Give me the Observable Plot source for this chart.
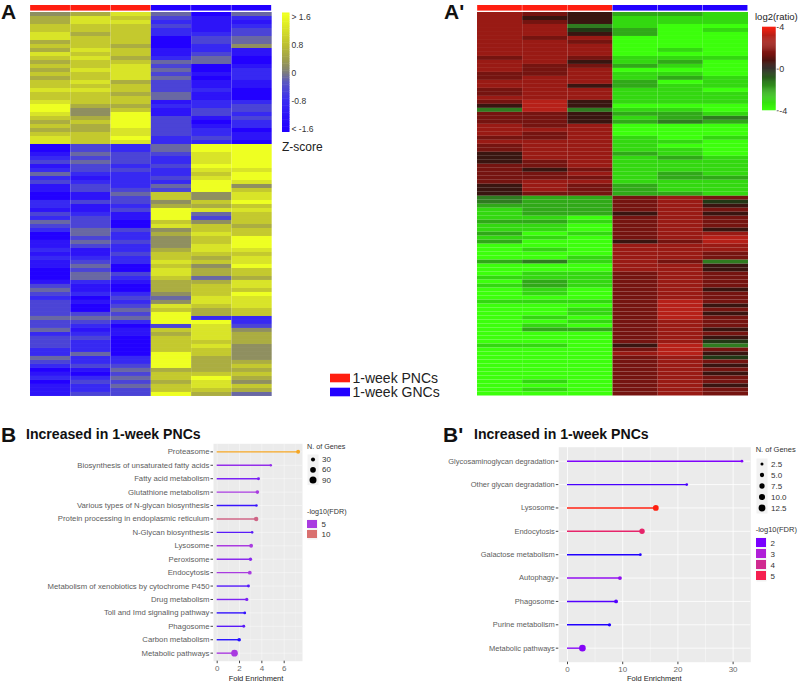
<!DOCTYPE html>
<html><head><meta charset="utf-8">
<style>
html,body{margin:0;padding:0;background:#fff}
#page{position:relative;width:800px;height:683px;overflow:hidden;font-family:"Liberation Sans",Arial,sans-serif}
#page svg{position:absolute;overflow:visible;background:transparent}
.t{position:absolute;line-height:1;white-space:nowrap;transform:translateY(-50%)}
</style>
<script src="https://cdn.jsdelivr.net/npm/d3@7"></script>
<script src="https://cdn.jsdelivr.net/npm/@observablehq/plot@0.6"></script>
</head><body><div id="page"></div>
<script>
// Panel A: z-score level per row (0 = below -1.6 ... 9 = above 1.6)
const zCol1=[5,6,6,7,7,8,8,6,7,6,8,7,6,7,6,7,6,7,7,8,7,7,8,9,9,8,7,6,7,6,7,8,8,0,0,1,2,3,1,2,4,2,3,1,1,0,0,2,2,1,3,2,4,3,2,0,0,1,1,2,1,2,1,1,0,0,0,1,3,4,3,2,3,3,3,3,4,3,3,4,2,3,3,3,2,2,4,3,2,0,1,2,0,1,1,1];
const zCol2=[6,8,8,7,7,6,7,7,7,8,7,8,7,7,8,7,7,8,7,8,7,7,7,6,5,5,6,7,6,6,7,7,7,3,3,4,3,4,3,3,2,1,2,3,3,1,1,3,1,1,2,3,3,3,4,4,3,4,3,1,1,2,3,4,3,4,4,2,1,1,2,0,1,0,0,3,4,3,2,1,2,3,2,2,2,4,2,2,3,1,0,2,3,2,2,3];
const zCol3=[8,7,8,7,7,7,7,7,6,7,7,6,7,8,8,8,8,6,7,7,6,7,7,6,7,9,9,9,9,8,8,9,8,2,2,3,3,3,2,3,2,2,2,2,3,4,3,3,2,3,1,1,0,0,3,2,2,3,2,2,3,2,2,0,0,3,2,1,0,0,2,3,2,3,4,3,4,2,0,1,1,0,0,0,0,0,2,2,3,4,3,4,3,4,3,3];
const zCol4=[4,3,2,3,2,2,0,0,0,1,1,2,4,3,4,3,4,3,3,3,4,4,1,2,1,1,3,3,3,3,3,2,2,4,4,3,2,2,3,2,2,3,2,4,3,7,7,5,6,9,9,9,7,8,5,6,5,5,5,6,7,7,8,7,8,8,7,6,6,6,5,4,5,8,7,9,9,9,3,7,6,7,7,7,7,9,9,9,9,6,7,7,6,7,7,9];
const zCol5=[0,1,1,1,1,2,3,3,2,2,3,4,4,0,0,1,0,1,1,2,1,1,2,2,3,3,1,0,1,2,2,3,2,9,9,8,8,8,9,8,7,8,9,9,9,5,5,7,6,8,4,3,5,7,7,8,7,7,8,8,7,6,7,5,6,6,4,6,7,7,7,8,8,7,6,6,2,9,8,8,8,8,7,8,7,7,6,6,6,6,7,9,8,8,7,6];
const zCol6=[4,2,1,2,3,3,4,4,5,1,1,0,0,1,2,2,2,1,1,0,0,0,2,3,3,2,3,2,2,0,1,1,0,9,9,9,9,9,9,8,9,9,8,5,7,8,8,9,7,8,7,7,7,6,7,7,9,9,9,8,7,8,8,9,7,7,6,8,8,7,9,8,8,8,7,7,2,2,3,5,6,6,6,5,5,5,5,6,7,6,7,6,5,7,6,4];
// Panel A': log2(ratio) level per row (0 = -4 ... 9 = +4)
const ratioCol1=[7,7,7,7,7,7,7,7,7,7,7,6,7,7,7,6,6,7,7,6,6,7,6,5,3,6,6,6,7,7,7,6,7,6,6,5,5,5,6,6,6,6,6,5,5,5,3,3,2,1,1,1,2,1,1,2,1,2,0,0,0,0,2,0,0,0,1,0,1,0,0,0,1,0,0,0,0,0,0,0,0,0,0,1,0,0,0,0,0,0,0,0,0,0,0,0];
const ratioCol2=[6,5,6,7,7,7,6,7,7,7,7,7,7,6,6,6,7,7,7,7,7,7,8,8,8,6,6,6,6,7,6,6,7,7,7,7,7,6,6,5,6,6,7,7,7,6,2,2,2,2,2,1,2,1,1,0,1,0,0,1,0,0,3,0,0,1,1,2,2,1,1,0,1,0,0,0,1,0,1,2,0,0,0,1,0,0,0,0,0,0,0,0,1,0,1,0];
const ratioCol3=[5,5,5,3,4,5,7,6,7,7,7,6,5,6,7,7,7,7,5,7,7,7,5,5,3,5,5,5,7,7,7,7,7,7,7,7,7,7,7,6,7,6,7,6,6,6,2,2,2,2,2,0,1,0,0,1,0,0,0,0,0,1,1,0,0,1,1,1,1,0,0,0,1,0,1,1,0,1,0,2,0,0,0,0,0,0,0,0,0,0,0,0,0,0,0,0];
const ratioCol4=[2,1,1,1,2,2,0,0,0,0,0,1,1,2,0,1,1,2,2,1,1,1,1,0,1,2,1,2,0,0,0,1,1,1,1,2,1,1,1,1,1,1,1,2,2,2,6,6,6,6,5,6,6,6,6,6,6,5,7,7,7,7,7,7,7,6,6,6,6,6,6,6,6,6,6,6,6,6,6,6,6,6,6,5,6,7,6,6,6,6,6,6,6,6,6,6];
const ratioCol5=[2,1,1,0,0,0,0,0,0,1,0,1,2,1,0,1,2,0,1,1,1,1,1,0,1,2,2,3,0,0,0,0,1,0,1,1,2,1,1,1,2,2,1,1,1,2,7,7,7,7,7,7,7,7,7,7,7,6,7,7,7,7,6,7,7,7,7,7,7,7,7,7,8,8,8,8,8,7,7,7,7,7,7,8,8,8,7,7,7,7,7,7,7,7,7,7];
const ratioCol6=[1,1,1,0,1,0,0,0,0,0,0,1,0,0,0,0,1,1,1,0,1,1,1,0,0,1,3,2,0,0,0,1,0,0,0,0,1,1,1,1,1,2,1,1,1,1,6,4,5,6,5,6,6,6,5,7,8,8,7,7,6,6,3,5,5,6,6,6,6,5,6,6,6,5,6,5,6,6,6,5,6,5,4,3,6,5,4,6,5,6,5,6,6,5,6,6];
const sampleGroup=["PNC","PNC","PNC","GNC","GNC","GNC"];
const groupNames=["PNC","GNC"];
const groupLabels=["1-week PNCs","1-week GNCs"];

// Panel B
const termsB=["Proteasome","Biosynthesis of unsaturated fatty acids","Fatty acid metabolism","Glutathione metabolism","Various types of N-glycan biosynthesis","Protein processing in endoplasmic reticulum","N-Glycan biosynthesis","Lysosome","Peroxisome","Endocytosis","Metabolism of xenobiotics by cytochrome P450","Drug metabolism","Toll and Imd signaling pathway","Phagosome","Carbon metabolism","Metabolic pathways"];
const foldB=[7.25,4.8,3.7,3.6,3.52,3.49,3.13,3.04,2.98,2.92,2.8,2.65,2.47,2.38,1.97,1.55];
const genesB=[29,11,16,24,11,36,12,27,21,27,16,19,14,16,24,82];
const fdrB=[14,4.3,3.5,5,2.5,9,3,5,4,5,2.9,3.6,2.4,3,2.2,5];
// Panel B'
const termsB2=["Glycosaminoglycan degradation","Other glycan degradation","Lysosome","Endocytosis","Galactose metabolism","Autophagy","Phagosome","Purine metabolism","Metabolic pathways"];
const foldB2=[31.6,21.6,16,13.5,13.2,9.5,8.8,7.6,2.7];
const genesB2=[2,2,9,8,2,4,4,3,12];
const fdrB2=[2.1,1.6,5.5,4.6,1.3,2.4,1.7,1.3,2.2];
const legendGenesB=[30,60,90];
const legendFdrB=[5,10];
const legendGenesB2=[2.5,5,7.5,10,12.5];
const legendFdrB2=[2,3,4,5];

const page=document.getElementById("page");
const FONT='"Liberation Sans",Arial,sans-serif';
const colZ={type:"linear",domain:[-1.6,-0.8,-0.3,0,0.3,0.8,1.6],range:["#2200ff","#3a2ef0","#5a58c0","#808078","#9a9a50","#bfc230","#eeff22"],clamp:true};
const colR={type:"linear",domain:[-4,-3.1,-2.2,-1.3,0,1.3,2.2,3.1,4],range:["#3cff0c","#33d810","#30a818","#2f7a20","#1a1510","#741410","#981a14","#b52018","#ff2010"],clamp:true};
const colB={type:"linear",domain:[2.2,3.5,5,10,14],range:["#2510ff","#7a20f5","#a93be0","#d9706f","#f5a623"],clamp:true};
const colB2={type:"linear",domain:[1.3,2,3,4,5,5.5],range:["#2000ff","#7a00ff","#b020d8","#d02a90","#f52050","#ff2010"],clamp:true};
const colGroup={type:"ordinal",domain:groupNames,range:["#ff1e10","#2200ff"]};
const rB={type:"sqrt",domain:[0,90],range:[0,3.5]};
const rB2={type:"sqrt",domain:[0,12.5],range:[0,3.4]};

function put(svg,x,y){svg.style.left=x+"px";svg.style.top=y+"px";page.appendChild(svg);return svg;}
function text(s,x,y,size,opts={}){
  const d=document.createElement("div");d.className="t";d.textContent=s;
  d.style.left=x+"px";d.style.top=y+"px";d.style.fontSize=size+"px";
  d.style.color=opts.color||"#111";if(opts.bold)d.style.fontWeight="700";
  if(opts.center)d.style.transform="translate(-50%,-50%)";
  page.appendChild(d);
}
const base={margin:0,style:{fontFamily:FONT,background:"transparent",overflow:"visible"}};

function heat(cols,color,toValue,x,y,w,h){
  const cells=cols.flatMap((col,c)=>col.map((v,r)=>({c,r,v:toValue(v)})));
  put(Plot.plot({...base,width:w,height:h,
    x:{type:"band",domain:d3.range(cols.length),padding:0,round:false,axis:null},
    y:{type:"band",domain:d3.range(cols[0].length),padding:0,round:false,axis:null},
    color,
    marks:[Plot.cell(cells,{x:"c",y:"r",fill:"v"})]}),x,y).style.filter="blur(0.6px)";
}
function bar(x,y,w,h){
  put(Plot.plot({...base,width:w,height:h,
    x:{type:"band",domain:d3.range(sampleGroup.length),padding:0,round:false,axis:null},
    y:{axis:null},
    color:colGroup,
    marks:[Plot.cell(sampleGroup,{x:(d,i)=>i,fill:d=>d,insetRight:0.4})]}),x,y);
}
function colorbar(color,lo,hi,step,ticks,fmt,x,y,w,h,tickSize,fs){
  const steps=d3.range(lo,hi,step);
  put(Plot.plot({...base,width:w+45,height:h,marginRight:45,
    x:{domain:[0,1],axis:null},
    y:{domain:[lo,hi],axis:null},
    color,
    marks:[
      Plot.rect(steps,{x1:0,x2:1,y1:d=>d,y2:d=>d+step*1.3,fill:d=>d}),
      Plot.axisY(ticks,{anchor:"right",tickSize,tickPadding:tickSize?1:1.5,fontSize:fs,label:null,tickFormat:fmt,fill:"#333",stroke:"#666"})
    ]}),x,y);
}
function lollipop(terms,fold,genes,fdr,o){
  const rows=terms.map((t,i)=>({t,x:fold[i],g:genes[i],f:fdr[i]}));
  put(Plot.plot({...base,width:o.right,height:o.h,marginLeft:o.left,marginTop:o.top,marginBottom:o.bottom,
    x:{domain:o.xd,ticks:o.ticks,tickFormat:d=>String(d),label:null},
    y:{type:"point",domain:terms,padding:0.6,round:false,label:null},
    color:o.color,r:o.r,
    marks:[
      Plot.frame({fill:"#ebebeb",stroke:null}),
      Plot.ruleX(o.minor,{stroke:"#fff",strokeWidth:o.grid/2}),
      Plot.ruleX(o.ticks,{stroke:"#fff",strokeWidth:o.grid}),
      Plot.ruleY(terms,{y:d=>d,stroke:"#fff",strokeWidth:o.grid}),
      Plot.ruleY(rows,{y:"t",x1:0,x2:"x",stroke:"f",strokeWidth:1.4}),
      Plot.dot(rows,{x:"x",y:"t",r:"g",fill:"f",stroke:null}),
      Plot.axisY({tickSize:2.5,tickPadding:1.5,fontSize:o.fs,fill:"#5c5c5c",stroke:"#444",label:null}),
      Plot.axisX(o.ticks,{tickSize:2.5,tickPadding:1.5,fontSize:8,fill:"#6a6a6a",stroke:"#444",label:null,tickFormat:d=>String(d)})
    ]}),0,o.y);
}
function sizeLegend(values,r,fmt,x,y,step,keyW){
  put(Plot.plot({...base,width:keyW+30,height:step*values.length,marginRight:30,
    x:{domain:[0,1],axis:null},
    y:{type:"point",domain:values,padding:0.5,round:false,axis:null},
    r,
    marks:[
      Plot.frame({fill:"#f2f2f2",stroke:null}),
      Plot.dot(values,{x:()=>0.5,y:d=>d,r:d=>d,fill:"#000",stroke:null}),
      Plot.axisY(values,{anchor:"right",tickSize:0,tickPadding:3.5,fontSize:8,fill:"#333",label:null,tickFormat:fmt})
    ]}),x,y);
}
function fillLegend(values,color,x,y,step,keyW){
  put(Plot.plot({...base,width:keyW+30,height:step*values.length,marginRight:30,
    x:{domain:[0,1],axis:null},
    y:{type:"band",domain:values,padding:0,round:false,axis:null},
    color,
    marks:[
      Plot.frame({fill:"#f2f2f2",stroke:null}),
      Plot.cell(values,{y:d=>d,fill:d=>d,insetTop:1,insetBottom:1}),
      Plot.axisY(values,{anchor:"right",tickSize:0,tickPadding:4,fontSize:8,fill:"#333",label:null})
    ]}),x,y);
}

// Panel A
const zOf=l=>(l-4.5)/4.5*1.6;
heat([zCol1,zCol2,zCol3,zCol4,zCol5,zCol6],colZ,zOf,30.3,12,241.7,384);
bar(30.3,5,241.7,5.6);
colorbar(colZ,-1.7,1.7,0.05,[-1.6,-0.8,0,0.8,1.6],d=>d===1.6?"> 1.6":d===-1.6?"< -1.6":String(d),282,12.7,7.5,119,0,8.5);
text("A",1,11,21,{bold:true});
text("Z-score",282,147,12,{color:"#222"});

// Panel A'
const rOf=l=>(l-4.5)/4.5*4;
heat([ratioCol1,ratioCol2,ratioCol3,ratioCol4,ratioCol5,ratioCol6],colR,rOf,476.7,12,271,383.5);
bar(476.7,5,271,5.6);
colorbar(colR,-4,4,0.1,[-4,0,4],d=>String(d),762.3,26.7,13.7,83.3,2,9);
text("A'",444,11,21,{bold:true});
text("log2(ratio)",755,17,9.5,{color:"#222"});

// Group legend
put(Plot.plot({...base,width:112,height:28,marginRight:92,
  x:{domain:[0,1],axis:null},
  y:{type:"band",domain:groupNames,padding:0,round:false,axis:null},
  color:colGroup,
  marks:[
    Plot.cell(groupNames,{y:d=>d,fill:d=>d,insetTop:2.7,insetBottom:2.7}),
    Plot.axisY(groupNames,{anchor:"right",tickSize:0,tickPadding:2,fontSize:14,fill:"#222",label:null,tickFormat:d=>groupLabels[groupNames.indexOf(d)]})
  ]}),330,371);

// Panel B
text("B",1,434,21,{bold:true});
text("Increased in 1-week PNCs",26,434,14.1,{bold:true});
lollipop(termsB,foldB,genesB,fdrB,{y:440,h:243,right:302,left:213,top:3.3,bottom:22.3,xd:[-0.33,7.64],ticks:[0,2,4,6],minor:[1,3,5,7],color:colB,r:rB,fs:7.75,grid:0.4});
text("Fold Enrichment",256,678.5,7.5,{center:true,color:"#222"});
text("N. of Genes",307,447,7.2,{color:"#333"});
sizeLegend(legendGenesB,rB,d=>String(d),307,454.3,10.2,11);
text("-log10(FDR)",307,511.7,7.2,{color:"#333"});
fillLegend(legendFdrB,colB,307,518.7,10,10);

// Panel B'
text("B'",443,434,21,{bold:true});
text("Increased in 1-week PNCs",474,434,14.1,{bold:true});
lollipop(termsB2,foldB2,genesB2,fdrB2,{y:440,h:243,right:750.3,left:558.3,top:6.7,bottom:21.3,xd:[-1.58,33.2],ticks:[0,10,20,30],minor:[5,15,25],color:colB2,r:rB2,fs:7.5,grid:0.8});
text("Fold Enrichment",654.3,678.5,7.5,{center:true,color:"#222"});
text("N. of Genes",755.7,450.3,7.5,{color:"#333"});
sizeLegend(legendGenesB2,rB2,d3.format(".1f"),755.7,457.5,11,11);
text("-log10(FDR)",755.7,530,7.5,{color:"#333"});
fillLegend(legendFdrB2,colB2,756,537.2,11,10);
</script></body></html>
